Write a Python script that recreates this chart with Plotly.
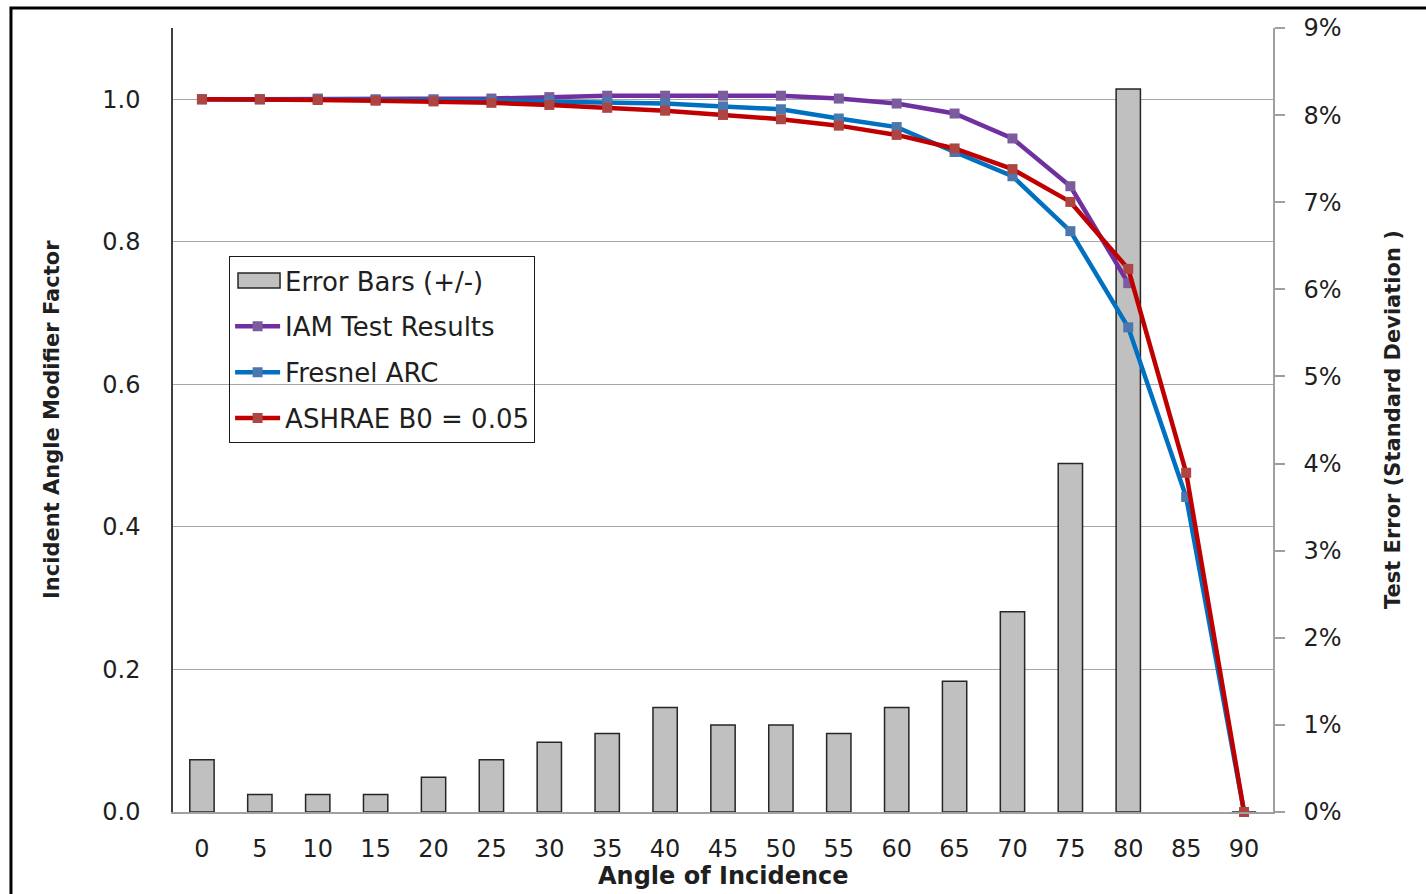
import plotly.graph_objects as go

angles = ["0", "5", "10", "15", "20", "25", "30", "35", "40", "45",
          "50", "55", "60", "65", "70", "75", "80", "85", "90"]

# Test error (standard deviation), fraction
error_bars = [0.006, 0.002, 0.002, 0.002, 0.004, 0.006, 0.008, 0.009, 0.012, 0.010,
              0.010, 0.009, 0.012, 0.015, 0.023, 0.040, 0.083, None, 0.0]

iam_test = [1.000, 1.000, 1.001, 1.000, 1.000, 1.001, 1.003, 1.005, 1.005, 1.005,
            1.005, 1.001, 0.994, 0.980, 0.945, 0.878, 0.742, None, None]

fresnel_arc = [1.000, 1.000, 1.000, 0.999, 0.999, 0.998, 0.997, 0.996, 0.994, 0.990,
               0.986, 0.973, 0.961, 0.926, 0.892, 0.815, 0.680, 0.442, 0.0]

ashrae = [1.000, 1.000, 0.999, 0.998, 0.997, 0.995, 0.992, 0.988, 0.984, 0.978,
          0.972, 0.963, 0.950, 0.931, 0.902, 0.856, 0.762, 0.476, 0.0]

FONT = "DejaVu Sans"
TXT = "#1f1f1f"
BAR_FILL = "#c0c0c0"
BAR_EDGE = "#262626"

fig = go.Figure()

fig.add_trace(go.Bar(
    x=angles, y=error_bars, name="Error Bars (+/-)",
    marker=dict(color=BAR_FILL, line=dict(color=BAR_EDGE, width=1.5)),
    width=0.42, yaxis="y", showlegend=False,
))

# legend entry for the bars (its wide swatch is drawn as a shape below)
fig.add_trace(go.Scatter(
    x=[None], y=[None], name="Error Bars (+/-)", mode="lines",
    line=dict(color="rgba(0,0,0,0)", width=1), yaxis="y2",
    legendgroup="a", hoverinfo="skip",
))

line_specs = [
    ("IAM Test Results", iam_test, "#7030a0", "#7b5c9c"),
    ("Fresnel ARC", fresnel_arc, "#0070c0", "#4a78ae"),
    ("ASHRAE B0 = 0.05", ashrae, "#c00000", "#ad4643"),
]
for i, (nm, vals, lc, mc) in enumerate(line_specs):
    fig.add_trace(go.Scatter(
        x=angles, y=vals, name=nm, mode="lines+markers",
        line=dict(color=lc, width=4.5),
        marker=dict(symbol="square", size=10, color=mc),
        yaxis="y2", legendgroup="g%d" % i, cliponaxis=False,
    ))

fig.update_layout(
    width=1426, height=894,
    margin=dict(l=173, r=153, t=28, b=82),
    plot_bgcolor="white", paper_bgcolor="white",
    font=dict(family=FONT, size=24, color=TXT),
    showlegend=True,
    legend=dict(
        x=0.051, y=0.709, xanchor="left", yanchor="top",
        bgcolor="rgba(0,0,0,0)", bordercolor="#1a1a1a", borderwidth=1,
        font=dict(family=FONT, size=26, color=TXT),
        itemwidth=45, tracegroupgap=9, traceorder="grouped",
    ),
    xaxis=dict(
        type="category", range=[-0.5, 18.5], showgrid=False, showline=True,
        linecolor="#a0a0a0", linewidth=1.5, ticks="",
        ticklabelstandoff=14, tickfont=dict(size=24),
    ),
    yaxis=dict(
        side="right", range=[0, 0.09], dtick=0.01, tickformat=".0%",
        showgrid=False, showline=True, linecolor="#a0a0a0", linewidth=1.5,
        ticks="outside", ticklen=10, tickcolor="#a0a0a0", tickwidth=1.5,
        ticklabelstandoff=14, tickfont=dict(size=24), zeroline=False,
    ),
    yaxis2=dict(
        side="left", overlaying="y", anchor="x", range=[0, 1.1], dtick=0.2,
        tickformat=".1f", showgrid=True, gridcolor="#a6a6a6", gridwidth=1.3,
        showline=True, linecolor="#404040", linewidth=1.5, ticks="",
        ticklabelstandoff=26, tickfont=dict(size=24), zeroline=False,
    ),
    annotations=[
        dict(text="<b>Angle of Incidence</b>", xref="paper", yref="paper",
             x=0.5, y=-0.0816, xanchor="center", yanchor="middle",
             showarrow=False, font=dict(size=24, color=TXT)),
        dict(text="<b>Incident Angle Modifier Factor</b>", xref="paper", yref="paper",
             x=-0.110, y=0.5, xanchor="center", yanchor="middle", textangle=-90,
             showarrow=False, font=dict(size=21, color=TXT)),
        dict(text="<b>Test Error (Standard Deviation )</b>", xref="paper", yref="paper",
             x=1.1091, y=0.5, xanchor="center", yanchor="middle", textangle=-90,
             showarrow=False, font=dict(size=21, color=TXT)),
    ],
    shapes=[
        # white backing for the legend box (between grid and traces)
        dict(type="rect", xref="paper", yref="paper",
             x0=0.0509, x1=0.3282, y0=0.4619, y1=0.7085,
             line=dict(width=0), fillcolor="white", layer="between"),
        # bar swatch for the legend
        dict(type="rect", xref="paper", yref="paper",
             x0=0.0591, x1=0.0973, y0=0.6684, y1=0.6875,
             line=dict(color=BAR_EDGE, width=1.5), fillcolor=BAR_FILL,
             layer="above"),
        # outer frame
        dict(type="rect", xref="paper", yref="paper",
             x0=-0.1473, x1=1.5, y0=-0.6, y1=1.0255,
             line=dict(color="black", width=3), fillcolor="rgba(0,0,0,0)",
             layer="above"),
    ],
)

fig.write_html("out.html")
